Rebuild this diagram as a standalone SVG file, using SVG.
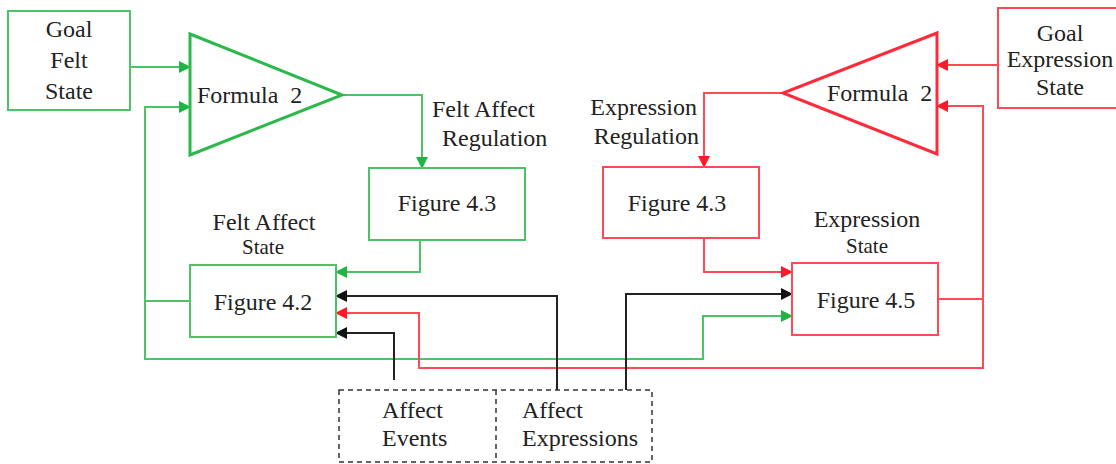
<svg xmlns="http://www.w3.org/2000/svg" width="1116" height="464" viewBox="0 0 1116 464">
<style>
text{font-family:"Liberation Serif","Times New Roman",serif;font-size:24px;fill:#222}
.m{text-anchor:middle}
.e{text-anchor:end}
.g{fill:#fff;stroke:#4cc466;stroke-width:2}
.r{fill:#fff;stroke:#ff4a55;stroke-width:2}
.gt{fill:#fff;stroke:#2db84d;stroke-width:3}
.rt{fill:#fff;stroke:#ff2a3a;stroke-width:3}
.cg{fill:none;stroke:#4cc466;stroke-width:2}
.cr{fill:none;stroke:#ff4a55;stroke-width:2}
.ck{fill:none;stroke:#222;stroke-width:2}
.d{fill:none;stroke:#333;stroke-width:1.5;stroke-dasharray:5,4}
</style>
<defs>
<marker id="ag" markerUnits="userSpaceOnUse" markerWidth="12" markerHeight="12" refX="11" refY="6" orient="auto"><path d="M0,0 L12,6 L0,12 z" fill="#1fb444"/></marker>
<marker id="ar" markerUnits="userSpaceOnUse" markerWidth="12" markerHeight="12" refX="11" refY="6" orient="auto"><path d="M0,0 L12,6 L0,12 z" fill="#ff1a2a"/></marker>
<marker id="ak" markerUnits="userSpaceOnUse" markerWidth="12" markerHeight="12" refX="11" refY="6" orient="auto"><path d="M0,0 L12,6 L0,12 z" fill="#111"/></marker>
</defs>
<g id="connectors">
<path class="cg" d="M130,67 H190" marker-end="url(#ag)"/>
<path class="cg" d="M190,301 H145 V107 H190" marker-end="url(#ag)"/>
<path class="cg" d="M145,301 V359 H703 V316 H792" marker-end="url(#ag)"/>
<path class="cg" d="M342,95 H422 V168" marker-end="url(#ag)"/>
<path class="cg" d="M420,240 V272 H336" marker-end="url(#ag)"/>
<path class="cr" d="M998,65 H937" marker-end="url(#ar)"/>
<path class="cr" d="M938,299 H983 V106 H937" marker-end="url(#ar)"/>
<path class="cr" d="M983,299 V368 H419 V313 H336" marker-end="url(#ar)"/>
<path class="cr" d="M783,93 H704 V167" marker-end="url(#ar)"/>
<path class="cr" d="M704,238 V272 H792" marker-end="url(#ar)"/>
<path class="ck" d="M557,390 V296 H336" marker-end="url(#ak)"/>
<path class="ck" d="M394,380 V333 H336" marker-end="url(#ak)"/>
<path class="ck" d="M626,390 V294 H792" marker-end="url(#ak)"/>
</g>
<g id="goal-felt">
<rect class="g" x="8" y="11" width="122" height="99"/>
<text class="m" x="69" y="37">Goal</text>
<text class="m" x="69" y="68">Felt</text>
<text class="m" x="69" y="99">State</text>
</g>
<g id="formula-left">
<polygon class="gt" points="190,34 342,95 190,155"/>
<text x="197" y="103" xml:space="preserve">Formula  2</text>
</g>
<g id="felt-regulation-label">
<text x="432" y="117">Felt Affect</text>
<text x="442" y="146">Regulation</text>
</g>
<g id="fig43-green">
<rect class="g" x="369" y="168" width="156" height="72"/>
<text class="m" x="447" y="211">Figure 4.3</text>
</g>
<g id="fig42">
<text class="m" x="264" y="230">Felt Affect</text>
<text class="m" x="263" y="254" style="font-size:21px">State</text>
<rect class="g" x="190" y="265" width="146" height="72"/>
<text class="m" x="263" y="310">Figure 4.2</text>
</g>
<g id="goal-expression">
<rect class="r" x="998" y="8" width="122" height="100"/>
<text class="m" x="1060" y="41">Goal</text>
<text class="m" x="1060" y="67">Expression</text>
<text class="m" x="1060" y="95">State</text>
</g>
<g id="formula-right">
<polygon class="rt" points="937,33 783,93 937,154"/>
<text x="827" y="101" xml:space="preserve">Formula  2</text>
</g>
<g id="expr-regulation-label">
<text class="e" x="697" y="115">Expression</text>
<text class="e" x="699" y="144">Regulation</text>
</g>
<g id="fig43-red">
<rect class="r" x="603" y="167" width="156" height="71"/>
<text class="m" x="677" y="211">Figure 4.3</text>
</g>
<g id="fig45">
<text class="m" x="867" y="227">Expression</text>
<text class="m" x="867" y="253" style="font-size:21px">State</text>
<rect class="r" x="792" y="263" width="146" height="72"/>
<text class="m" x="866" y="308">Figure 4.5</text>
</g>
<g id="affect-inputs">
<rect class="d" x="339" y="390" width="313" height="72"/>
<line class="d" x1="496" y1="390" x2="496" y2="462"/>
<text x="382" y="418">Affect</text>
<text x="382" y="446">Events</text>
<text x="522" y="418">Affect</text>
<text x="522" y="446">Expressions</text>
</g>
</svg>
